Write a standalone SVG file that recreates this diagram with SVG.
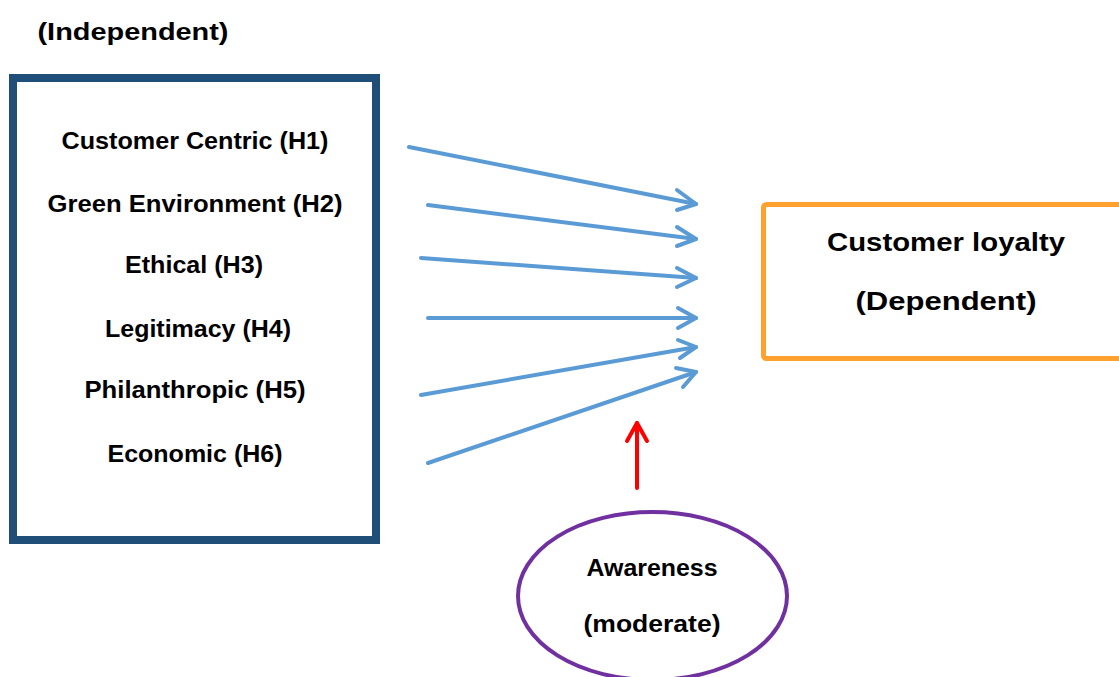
<svg xmlns="http://www.w3.org/2000/svg" width="1119" height="677" viewBox="0 0 1119 677">
<defs>
<style>
.t{font-family:"Liberation Sans",Arial,sans-serif;font-weight:bold;fill:#000;text-anchor:middle}
.s{font-size:23px}
.b{fill:none;stroke:#5B9BD5;stroke-width:4;stroke-linecap:round;stroke-linejoin:round}
.r{fill:none;stroke:#FF0000;stroke-width:4;stroke-linecap:round;stroke-linejoin:round}
</style>
</defs>
<rect width="1119" height="677" fill="#fff"/>
<text class="t s" x="133" y="40" textLength="191" lengthAdjust="spacingAndGlyphs">(Independent)</text>
<g id="independent">
<rect x="13" y="78" width="363" height="462" fill="none" stroke="#1F4E79" stroke-width="8"/>
<text class="t s" x="195" y="149" textLength="267" lengthAdjust="spacingAndGlyphs">Customer Centric (H1)</text>
<text class="t s" x="195" y="212" textLength="295" lengthAdjust="spacingAndGlyphs">Green Environment (H2)</text>
<text class="t s" x="194" y="273" textLength="138" lengthAdjust="spacingAndGlyphs">Ethical (H3)</text>
<text class="t s" x="198" y="337" textLength="186" lengthAdjust="spacingAndGlyphs">Legitimacy (H4)</text>
<text class="t s" x="195" y="398" textLength="221" lengthAdjust="spacingAndGlyphs">Philanthropic (H5)</text>
<text class="t s" x="195" y="462" textLength="175" lengthAdjust="spacingAndGlyphs">Economic (H6)</text>
</g>
<g id="dependent">
<rect x="763.5" y="204.5" width="380" height="154" rx="3" fill="none" stroke="#FFA02F" stroke-width="5"/>
<text class="t" style="font-size:26px" x="946" y="251" textLength="238" lengthAdjust="spacingAndGlyphs">Customer loyalty</text>
<text class="t" style="font-size:26px" x="946" y="310" textLength="181" lengthAdjust="spacingAndGlyphs">(Dependent)</text>
</g>
<g id="moderator">
<ellipse cx="652.5" cy="596" rx="134.5" ry="84" fill="none" stroke="#7030A0" stroke-width="4"/>
<text class="t s" x="652" y="576" textLength="131" lengthAdjust="spacingAndGlyphs">Awareness</text>
<text class="t s" x="652" y="632" textLength="137" lengthAdjust="spacingAndGlyphs">(moderate)</text>
</g>
<g id="connectors">
<line class="b" x1="409" y1="147" x2="696" y2="204"/>
<polyline class="b" points="677,190 696,204 677,210"/>
<line class="b" x1="428" y1="205" x2="696" y2="239"/>
<polyline class="b" points="677,227 696,239 677,246"/>
<line class="b" x1="421" y1="258" x2="696" y2="278"/>
<polyline class="b" points="677,268 696,278 677,287"/>
<line class="b" x1="428" y1="318" x2="696" y2="318"/>
<polyline class="b" points="678,308 696,318 678,328"/>
<line class="b" x1="421" y1="395" x2="696" y2="347"/>
<polyline class="b" points="678,340 696,347 680,358"/>
<line class="b" x1="428" y1="463" x2="696" y2="372"/>
<polyline class="b" points="676,368 696,372 683,387"/>
<line class="r" x1="637" y1="488" x2="637" y2="423"/>
<polyline class="r" points="627,441 637,423 647,441"/>
</g>
</svg>
